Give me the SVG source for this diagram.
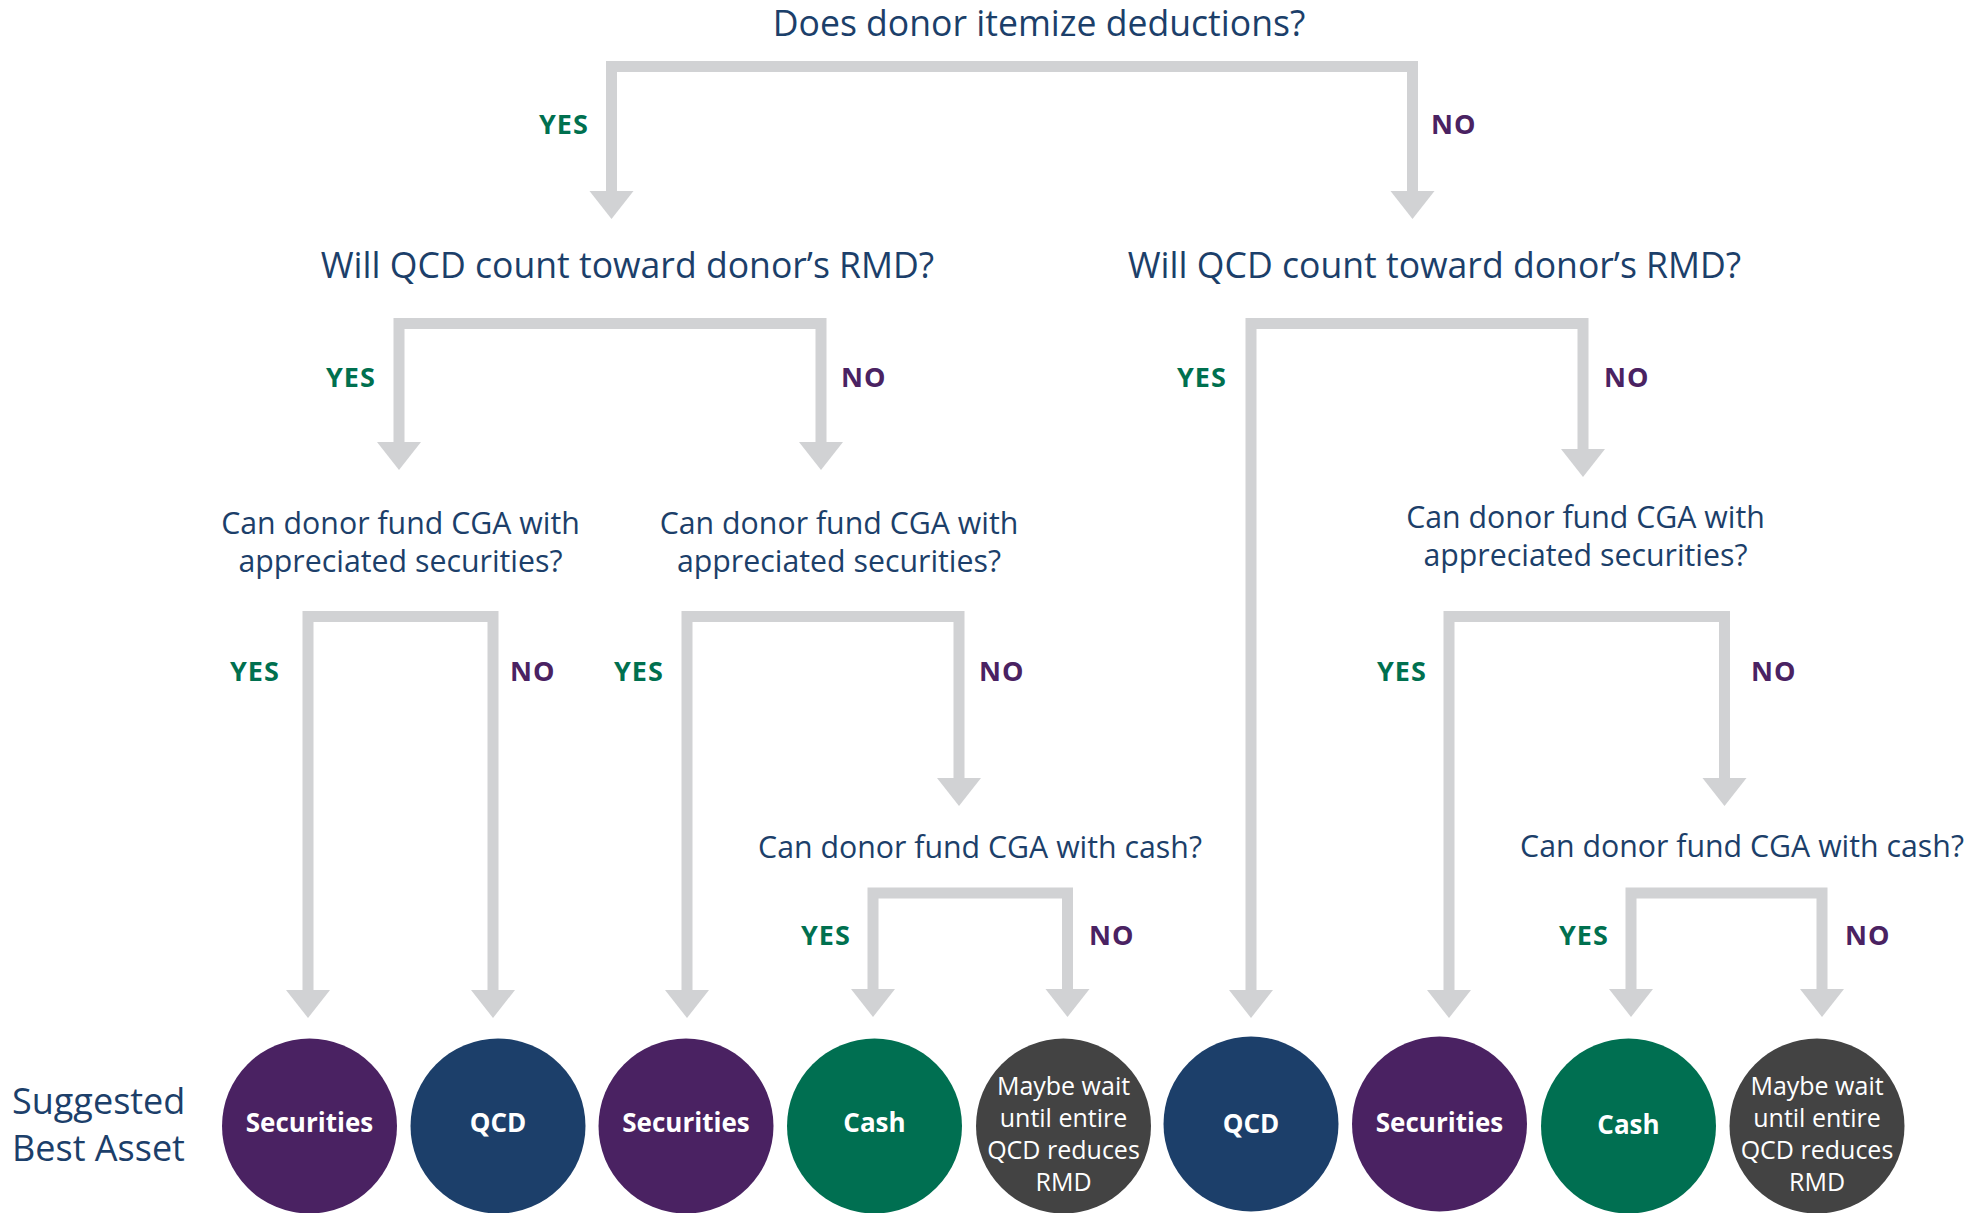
<svg xmlns="http://www.w3.org/2000/svg" xmlns:xlink="http://www.w3.org/1999/xlink" width="1981" height="1213" viewBox="0 0 1981 1213">
<defs>
<style>
.q{font-family:"Open Sans","Liberation Sans",sans-serif;fill:#1c3f6a;text-anchor:middle}
.q1{font-size:35.6px}
.q3{font-size:30.3px}
.yes{font-family:"Open Sans","Liberation Sans",sans-serif;font-weight:bold;font-size:27px;letter-spacing:1px;fill:#00704f}
.no{font-family:"Open Sans","Liberation Sans",sans-serif;font-weight:bold;font-size:27px;letter-spacing:1px;fill:#4a2262}
.c{fill:none;stroke:#d1d2d4;stroke-width:11;stroke-linejoin:miter}
.ah{fill:#d1d2d4}
.ct{font-family:"Open Sans","Liberation Sans",sans-serif;font-weight:bold;font-size:26px;fill:#fff;text-anchor:middle}
.ctg{font-family:"Open Sans","Liberation Sans",sans-serif;font-size:25px;fill:#fff;text-anchor:middle}
.sg{font-family:"Open Sans","Liberation Sans",sans-serif;font-size:36px;fill:#1c3f6a}
.pur{fill:#4a2262}.nav{fill:#1c3f6a}.grn{fill:#006f51}.gry{fill:#434343}
</style>
<polygon id="ah" class="ah" points="-22,-28 22,-28 0,0"/>
</defs>
<g id="connectors">
<path class="c" d="M611.5,192 V66.5 H1412.5 V192"/>
<use xlink:href="#ah" x="611.5" y="219"/>
<use xlink:href="#ah" x="1412.5" y="219"/>
<path class="c" d="M399,443 V323.5 H821 V443"/>
<use xlink:href="#ah" x="399" y="470"/>
<use xlink:href="#ah" x="821" y="470"/>
<path class="c" d="M1251,991 V323.5 H1583 V450"/>
<use xlink:href="#ah" x="1251" y="1018"/>
<use xlink:href="#ah" x="1583" y="477"/>
<path class="c" d="M308,991 V616.5 H493 V991"/>
<use xlink:href="#ah" x="308" y="1018"/>
<use xlink:href="#ah" x="493" y="1018"/>
<path class="c" d="M687,991 V616.5 H959 V779"/>
<use xlink:href="#ah" x="687" y="1018"/>
<use xlink:href="#ah" x="959" y="806"/>
<path class="c" d="M1449,991 V616.5 H1724.5 V779"/>
<use xlink:href="#ah" x="1449" y="1018"/>
<use xlink:href="#ah" x="1724.5" y="806"/>
<path class="c" d="M873,990 V893 H1067.5 V990"/>
<use xlink:href="#ah" x="873" y="1017"/>
<use xlink:href="#ah" x="1067.5" y="1017"/>
<path class="c" d="M1631,990 V893 H1822 V990"/>
<use xlink:href="#ah" x="1631" y="1017"/>
<use xlink:href="#ah" x="1822" y="1017"/>
</g>
<g id="labels">
<text class="yes" x="539" y="134">YES</text>
<text class="no" x="1431" y="134">NO</text>
<text class="yes" x="326" y="387">YES</text>
<text class="no" x="841" y="387">NO</text>
<text class="yes" x="230" y="681">YES</text>
<text class="no" x="510" y="681">NO</text>
<text class="yes" x="614" y="681">YES</text>
<text class="no" x="979" y="681">NO</text>
<text class="yes" x="1177" y="387">YES</text>
<text class="no" x="1604" y="387">NO</text>
<text class="yes" x="1377" y="681">YES</text>
<text class="no" x="1751" y="681">NO</text>
<text class="yes" x="801" y="945">YES</text>
<text class="no" x="1089" y="945">NO</text>
<text class="yes" x="1559" y="945">YES</text>
<text class="no" x="1845" y="945">NO</text>
</g>
<g id="q-itemize"><text class="q q1" x="1039" y="36">Does donor itemize deductions?</text></g>
<g id="q-rmd-left"><text class="q q1" x="627.5" y="278">Will QCD count toward donor’s RMD?</text></g>
<g id="q-rmd-right"><text class="q q1" x="1434.5" y="278">Will QCD count toward donor’s RMD?</text></g>
<g id="q-sec-1"><text class="q q3" x="400.5" y="534">Can donor fund CGA with</text><text class="q q3" x="400.5" y="572">appreciated securities?</text></g>
<g id="q-sec-2"><text class="q q3" x="839" y="534">Can donor fund CGA with</text><text class="q q3" x="839" y="572">appreciated securities?</text></g>
<g id="q-sec-3"><text class="q q3" x="1585.5" y="528">Can donor fund CGA with</text><text class="q q3" x="1585.5" y="566">appreciated securities?</text></g>
<g id="q-cash-1"><text class="q q3" x="980" y="858">Can donor fund CGA with cash?</text></g>
<g id="q-cash-2"><text class="q q3" x="1742" y="857">Can donor fund CGA with cash?</text></g>
<g id="suggested"><text class="sg" x="12" y="1114">Suggested</text><text class="sg" x="12" y="1161">Best Asset</text></g>
<g id="a1"><circle class="pur" cx="309.5" cy="1126" r="87.5"/><text class="ct" x="309.5" y="1132">Securities</text></g>
<g id="a2"><circle class="nav" cx="498" cy="1126" r="87.5"/><text class="ct" x="498" y="1132">QCD</text></g>
<g id="a3"><circle class="pur" cx="686" cy="1126" r="87.5"/><text class="ct" x="686" y="1132">Securities</text></g>
<g id="a4"><circle class="grn" cx="874.5" cy="1126" r="87.5"/><text class="ct" x="874.5" y="1132">Cash</text></g>
<g id="a5"><circle class="gry" cx="1063.5" cy="1126" r="87.5"/><text class="ctg" x="1063.5" y="1095">Maybe wait</text><text class="ctg" x="1063.5" y="1127">until entire</text><text class="ctg" x="1063.5" y="1159">QCD reduces</text><text class="ctg" x="1063.5" y="1191">RMD</text></g>
<g id="a6"><circle class="nav" cx="1251" cy="1124" r="87.5"/><text class="ct" x="1251" y="1133" font-size="28">QCD</text></g>
<g id="a7"><circle class="pur" cx="1439.5" cy="1124" r="87.5"/><text class="ct" x="1439.5" y="1132">Securities</text></g>
<g id="a8"><circle class="grn" cx="1628.5" cy="1126" r="87.5"/><text class="ct" x="1628.5" y="1134" font-size="28">Cash</text></g>
<g id="a9"><circle class="gry" cx="1817" cy="1126" r="87.5"/><text class="ctg" x="1817" y="1095">Maybe wait</text><text class="ctg" x="1817" y="1127">until entire</text><text class="ctg" x="1817" y="1159">QCD reduces</text><text class="ctg" x="1817" y="1191">RMD</text></g>
</svg>
